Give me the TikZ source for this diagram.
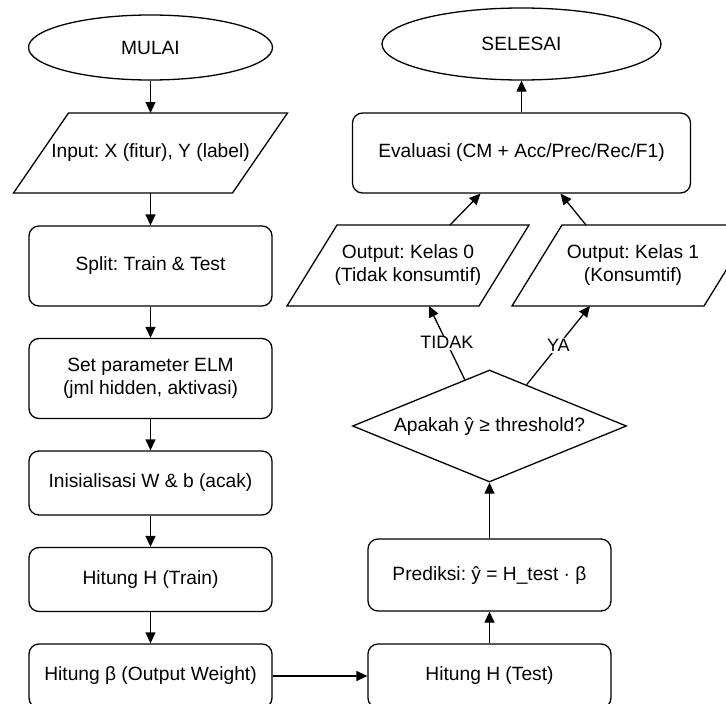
\documentclass[tikz,border=0pt]{standalone}
\usepackage{fontspec}
\setmainfont{Liberation Sans}
\frenchspacing
\usetikzlibrary{shapes.geometric,arrows.meta,calc}

\begin{document}
\begin{tikzpicture}[x=1pt, y=-1pt,
        font=\fontsize{19.2}{23}\selectfont,
        proc/.style={draw, rectangle, rounded corners=10pt, minimum width=243pt, minimum height=64pt, inner sep=2pt, align=center, line width=1.3pt},
        term/.style={draw, ellipse, inner sep=0pt, line width=1.3pt},
        io/.style={rectangle, minimum height=80pt, inner sep=2pt, outer sep=0pt, align=center},
        ioline/.style={line width=1.3pt},
        decide/.style={draw, diamond, aspect=2.45, minimum width=274pt, minimum height=112pt, inner sep=1pt, line width=1.3pt},
        flow/.style={-{Triangle[length=11pt,width=10pt]}, line width=1.3pt},
        answer/.style={fill=white, inner sep=1pt, font=\fontsize{18}{20}\selectfont}]
        \useasboundingbox (0,0) rectangle (726,704);
        \clip (0,0) rectangle (726,704);

        % training column
        \node[term, minimum width=244pt, minimum height=65pt] (mulai) at (150.5,47.5) {MULAI};
        \node[io, minimum width=219pt] (input) at (150.5,153) {Input: X (fitur), Y (label)};
        \node[proc, minimum height=80pt] (split) at (150.5,266) {Split: Train \& Test};
        \node[proc, minimum height=80pt] (param) at (150.5,378.5) {Set parameter ELM\\(jml hidden, aktivasi)};
        \node[proc] (init) at (150.5,483) {Inisialisasi W \& b (acak)};
        \node[proc] (htrain) at (150.5,579.5) {Hitung H (Train)};
        \node[proc] (beta) at (150.5,676) {Hitung β (Output Weight)};

        % testing column
        \node[proc] (htest) at (489.5,676) {Hitung H (Test)};
        \node[proc, minimum height=72pt] (prediksi) at (489.5,575) {Prediksi: ŷ = H\_test · β};
        \node[decide] (cek) at (489.5,426) {Apakah ŷ ≥ threshold?};
        \node[io, minimum width=192pt, minimum height=81pt] (kelas0) at (408,265.5) {Output: Kelas 0\\(Tidak konsumtif)};
        \node[io, minimum width=192pt, minimum height=81pt] (kelas1) at (633,265.5) {Output: Kelas 1\\(Konsumtif)};
        \node[proc, minimum width=338pt, minimum height=80pt] (eval) at (521.5,153) {Evaluasi (CM + Acc/Prec/Rec/F1)};
        \node[term, minimum width=279pt, minimum height=72pt] (selesai) at (521.5,44) {SELESAI};

        % parallelogram outlines
        \foreach \n/\s in {input/27.5, kelas0/25, kelas1/25}
            \draw[ioline] ([xshift=-\s pt]\n.south west) -- ([xshift=-\s pt]\n.south east)
                -- ([xshift=\s pt]\n.north east) -- ([xshift=\s pt]\n.north west) -- cycle;

        \draw[flow] (mulai) -- (input);
        \draw[flow] (input) -- (split);
        \draw[flow] (split) -- (param);
        \draw[flow] (param) -- (init);
        \draw[flow] (init) -- (htrain);
        \draw[flow] (htrain) -- (beta);
        \draw[flow] (beta) -- (htest);
        \draw[flow] (htest) -- (prediksi);
        \draw[flow] (prediksi) -- (cek);

        % decision branches
        \draw[flow] ($(cek.north)!0.18!(cek.west)$) -- node[answer] {TIDAK} ([xshift=21pt]kelas0.south);
        \draw[flow] ($(cek.north)!0.27!(cek.east)$) -- node[answer] {YA} ([xshift=-43pt]kelas1.south);
        \draw[flow] ([xshift=42pt]kelas0.north) -- ([xshift=-41pt]eval.south);
        \draw[flow] ([xshift=-47pt]kelas1.north) -- ([xshift=39pt]eval.south);
        \draw[flow] (eval) -- (selesai);
    \end{tikzpicture}
\end{document}
